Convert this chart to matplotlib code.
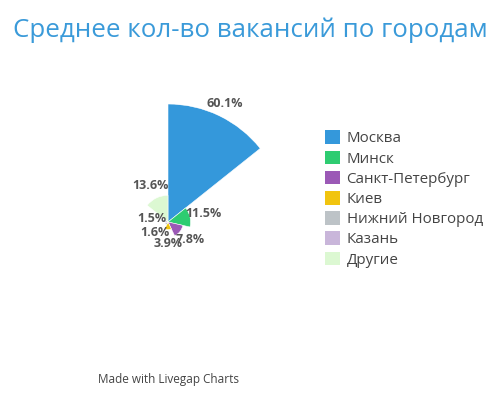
import matplotlib
matplotlib.use("Agg")
import matplotlib.pyplot as plt
import numpy as np
from matplotlib.patches import Patch

plt.rcParams['font.family'] = ['Open Sans', 'DejaVu Sans']

title = "Среднее кол-во вакансий по городам"
cities = ["Москва", "Минск", "Санкт-Петербург", "Киев", "Нижний Новгород", "Казань", "Другие"]
shares = [60.1, 11.5, 7.8, 3.9, 1.6, 1.5, 13.6]
colors = ["#3498db", "#2ecc71", "#9b59b6", "#f1c40f", "#bdc3c7", "#c9b6da", "#dcf8d2"]

fig = plt.figure(figsize=(5, 4), dpi=100)
# polar area chart, center ~ (168, 222) px, radius ~118 px
ax = fig.add_axes([0.336 - 0.236, 0.445 - 0.295, 0.472, 0.59], projection='polar')
ax.set_theta_zero_location('N')
ax.set_theta_direction(-1)

n = len(shares)
width = 2 * np.pi / n
theta = np.arange(n) * width
ax.bar(theta, shares, width=width, align='edge', color=colors, edgecolor='white', linewidth=0.4)
ax.set_ylim(0, max(shares))
ax.axis('off')

# value labels centred just past each wedge's edge (3.9%/7.8% overlap as in the original)
pad = 6.9
for t, v in zip(theta, shares):
    ax.text(t + width / 2, v + pad, f"{v}%", ha='center', va='center', fontsize=9,
            fontweight='bold', color='#555555')

fig.text(0.5, 0.925, title, ha='center', va='center', fontsize=18.6, color='#3a9ad9')
fig.text(0.336, 0.05, "Made with Livegap Charts", ha='center', va='center',
         fontsize=8.5, color='#444444')

handles = [Patch(facecolor=c, edgecolor='none') for c in colors]
fig.legend(handles, cities, loc='upper left', bbox_to_anchor=(0.622, 0.708),
           frameon=False, fontsize=10.9, handlelength=1.0, handleheight=1.0,
           handletextpad=0.45, labelspacing=0.28, labelcolor='#444444')

fig.savefig("out.png", dpi=100)
